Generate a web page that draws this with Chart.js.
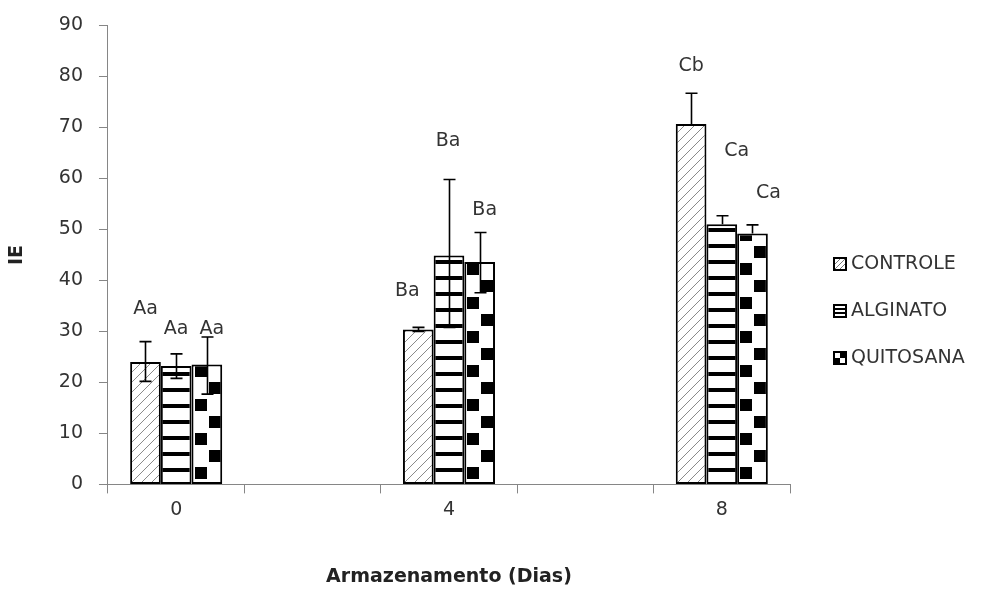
<!DOCTYPE html>
<html>
<head>
<meta charset="utf-8">
<script src="https://cdn.jsdelivr.net/npm/chart.js@4.4.0/dist/chart.umd.min.js"></script>
<style>
  html, body { margin: 0; background: #fff; }
  #wrap { width: 990px; height: 590px; }
</style>
</head>
<body>
<div id="wrap"><canvas id="ieChart"></canvas></div>
<script>
// Storage days (empty slots keep the gaps between 0, 4 and 8)
const days = ['0', '', '4', '', '8'];
const seriesNames = ['CONTROLE', 'ALGINATO', 'QUITOSANA'];

// Mean IE per treatment
const controle  = [24.0, null, 30.4, null, 70.7];
const alginato  = [23.2, null, 44.9, null, 51.0];
const quitosana = [23.5, null, 43.6, null, 49.2];

// Error bar extents (up / down)
const controleErrUp    = [4.0, null, 0.4, null, 6.0];
const controleErrDown  = [3.8, null, 0.4, null, 0];
const alginatoErrUp    = [2.4, null, 14.9, null, 1.7];
const alginatoErrDown  = [2.4, null, 14.1, null, 0];
const quitosanaErrUp   = [5.4, null, 5.8, null, 1.7];
const quitosanaErrDown = [5.8, null, 6.0, null, 0];

// Significance letters
const controleLetters  = ['Aa', '', 'Ba', '', 'Cb'];
const alginatoLetters  = ['Aa', '', 'Ba', '', 'Ca'];
const quitosanaLetters = ['Aa', '', 'Ba', '', 'Ca'];

const FONT = 'DejaVu Sans';
const TEXT = '#333';
const AXIS = '#868686';

// where each letter sits: [dx from bar centre, dy from error bar top]
const letterPlace = [
  [[0, -33], null, [-11, -36], null, [0, -27]],
  [[0, -25], null, [-1, -38], null, [15, -65]],
  [[5, -8],  null, [5, -22],  null, [16, -32]]
];

function makeTile(w, h, draw) {
  const c = document.createElement('canvas');
  c.width = w; c.height = h;
  const g = c.getContext('2d');
  g.fillStyle = '#fff';
  g.fillRect(0, 0, w, h);
  draw(g);
  return c;
}

const hatchTile = makeTile(10, 10, g => {
  g.strokeStyle = '#8a8a8a';
  g.lineWidth = 1;
  g.beginPath();
  g.moveTo(-1, 11); g.lineTo(11, -1);
  g.moveTo(-6, 6); g.lineTo(6, -6);
  g.moveTo(4, 16); g.lineTo(16, 4);
  g.stroke();
});
const stripeTile = makeTile(8, 16, g => {
  g.fillStyle = '#000';
  g.fillRect(0, 0, 8, 4);
});
const dotTile = makeTile(31, 34, g => {
  g.fillStyle = '#000';
  g.fillRect(3, 17, 12, 12);
  g.fillRect(17, 0, 14, 12);
});

const canvas = document.getElementById('ieChart');
const ctx = canvas.getContext('2d');
const patternsFor = tile => days.map(() => ctx.createPattern(tile, 'repeat'));

const values = [controle, alginato, quitosana];
const errUp = [controleErrUp, alginatoErrUp, quitosanaErrUp];
const errDown = [controleErrDown, alginatoErrDown, quitosanaErrDown];
const letters = [controleLetters, alginatoLetters, quitosanaLetters];
const tiles = [hatchTile, stripeTile, dotTile];

// line the fill patterns up with the left edge of every bar
const alignPatterns = {
  id: 'alignPatterns',
  beforeDatasetsDraw(chart) {
    const base = Math.round(chart.chartArea.bottom);
    chart.data.datasets.forEach((ds, di) => {
      chart.getDatasetMeta(di).data.forEach((bar, i) => {
        if (ds.data[i] == null) return;
        const p = ds.backgroundColor[i];
        p.setTransform(new DOMMatrix().translate(Math.round(bar.x - bar.width / 2), base));
      });
    });
  }
};

const errorBars = {
  id: 'errorBars',
  afterDatasetsDraw(chart) {
    const c = chart.ctx;
    const y = chart.scales.y;
    c.save();
    c.strokeStyle = '#000';
    c.lineWidth = 1.6;
    c.fillStyle = TEXT;
    c.font = '19px "' + FONT + '"';
    c.textAlign = 'center';
    c.textBaseline = 'middle';
    values.forEach((vals, di) => {
      chart.getDatasetMeta(di).data.forEach((bar, i) => {
        const v = vals[i];
        if (v == null) return;
        const x = Math.round(bar.x) + 0.5;
        const top = y.getPixelForValue(v + errUp[di][i]);
        const bot = y.getPixelForValue(v - errDown[di][i]);
        c.beginPath();
        c.moveTo(x, top); c.lineTo(x, bot);
        c.moveTo(x - 6, top); c.lineTo(x + 6, top);
        if (errDown[di][i] > 0) { c.moveTo(x - 6, bot); c.lineTo(x + 6, bot); }
        c.stroke();
        const pl = letterPlace[di][i];
        c.fillText(letters[di][i], bar.x + pl[0], top + pl[1]);
      });
    });
    c.restore();
  }
};

// legend on the right with small pattern swatches
const sideLegend = {
  id: 'sideLegend',
  afterDraw(chart) {
    const c = chart.ctx;
    const x0 = 833, rows = [264, 311, 358], s = 14;
    c.save();
    c.font = '19px "' + FONT + '"';
    c.textBaseline = 'middle';
    rows.forEach((yc, k) => {
      const top = Math.round(yc - s / 2);
      c.fillStyle = '#fff';
      c.fillRect(x0, top, s, s);
      c.fillStyle = '#000';
      if (k === 0) {
        c.strokeStyle = '#777';
        c.lineWidth = 1;
        c.beginPath();
        c.moveTo(x0 + 2, top + s - 2); c.lineTo(x0 + s - 2, top + 2);
        c.moveTo(x0 + 2, top + 7); c.lineTo(x0 + 7, top + 2);
        c.moveTo(x0 + 7, top + s - 2); c.lineTo(x0 + s - 2, top + 7);
        c.stroke();
      } else if (k === 1) {
        c.fillRect(x0, top + 4, s, 2);
        c.fillRect(x0, top + 8, s, 2);
      } else {
        c.fillRect(x0 + 7, top, 7, 7);
        c.fillRect(x0, top + 7, 7, 7);
      }
      c.strokeStyle = '#000';
      c.lineWidth = 2;
      c.strokeRect(x0 + 1, top + 1, s - 2, s - 2);
      c.fillStyle = TEXT;
      c.fillText(seriesNames[k], 851, yc);
    });
    c.restore();
  }
};

new Chart(canvas, {
  type: 'bar',
  data: {
    labels: days,
    datasets: values.map((vals, di) => ({
      label: seriesNames[di],
      data: vals,
      backgroundColor: patternsFor(tiles[di]),
      borderColor: '#000',
      borderWidth: 2,
      borderSkipped: false,
      categoryPercentage: 0.675,
      barPercentage: 1.0
    }))
  },
  options: {
    responsive: true,
    maintainAspectRatio: false,
    animation: false,
    layout: { padding: { top: 10, right: 200, bottom: 2, left: 0 } },
    scales: {
      x: {
        grid: { drawOnChartArea: false, tickLength: 9, color: AXIS },
        border: { color: AXIS, width: 1 },
        ticks: { color: TEXT, font: { family: FONT, size: 19 }, padding: 5 },
        title: {
          display: true,
          text: 'Armazenamento (Dias)',
          color: '#222',
          font: { family: FONT, size: 19, weight: 'bold' },
          padding: { top: 39, bottom: 0 }
        }
      },
      y: {
        min: 0,
        max: 90,
        grid: { drawOnChartArea: false, tickLength: 9, color: AXIS },
        border: { color: AXIS, width: 1 },
        ticks: { stepSize: 10, color: TEXT, font: { family: FONT, size: 19, lineHeight: 1.0 }, padding: 16 },
        title: {
          display: true,
          text: 'IE',
          color: '#222',
          font: { family: FONT, size: 19, weight: 'bold' },
          padding: { top: 6, bottom: 14 }
        }
      }
    },
    plugins: {
      legend: { display: false },
      tooltip: { enabled: false }
    }
  },
  plugins: [alignPatterns, errorBars, sideLegend]
});
</script>
</body>
</html>
